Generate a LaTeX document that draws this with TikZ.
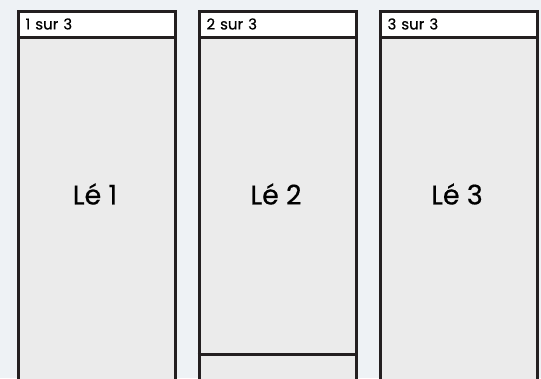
\documentclass[tikz,border=0pt]{standalone}
\usepackage{fontspec}
\setmainfont{Poppins}
\newfontfamily\stripfont{Poppins}[FakeBold=0.5]
\usepackage{tikz}
\usetikzlibrary{positioning}

\definecolor{backdrop}{HTML}{EEF2F5}
\definecolor{paper}{HTML}{EBEBEB}
\definecolor{ink}{HTML}{231F20}

\begin{document}
\begin{tikzpicture}[
  x=1pt, y=-1pt,
  panel/.style={draw=ink, fill=paper, line width=3pt, minimum width=157pt,
                minimum height=374pt, inner sep=0pt, anchor=north west},
  header/.style={draw=ink, fill=white, line width=3pt, minimum width=157pt,
                 minimum height=26pt, text width=142pt, inner xsep=7.5pt,
                 inner ysep=0pt, align=left, anchor=north west,
                 font=\stripfont\fontsize{15}{17}\selectfont},
  lename/.style={font=\stripfont\fontsize{27}{31}\selectfont, inner sep=0pt},
  rule/.style={draw=ink, line width=3pt}
]

% ---------- backdrop and frame ----------
\fill[backdrop] (0,0) rectangle (541,378);
\clip (0,0) rectangle (541,378);

% ---------- three strips ----------
\foreach \i/\x in {1/16.5, 2/197.5, 3/378.5}{
  \node[panel] (p\i) at (\x,9.5) {};
  \node[header] (h\i) at (\x,9.5) {\i{} sur 3};
  \node[lename] (l\i) at (\x+78.5,194) {Lé \i};
}

% cut line near the bottom of strip 2
\coordinate (cut) at (0,354);
\draw[rule] (p2.west |- cut) -- (p2.east |- cut);

\end{tikzpicture}
\end{document}
